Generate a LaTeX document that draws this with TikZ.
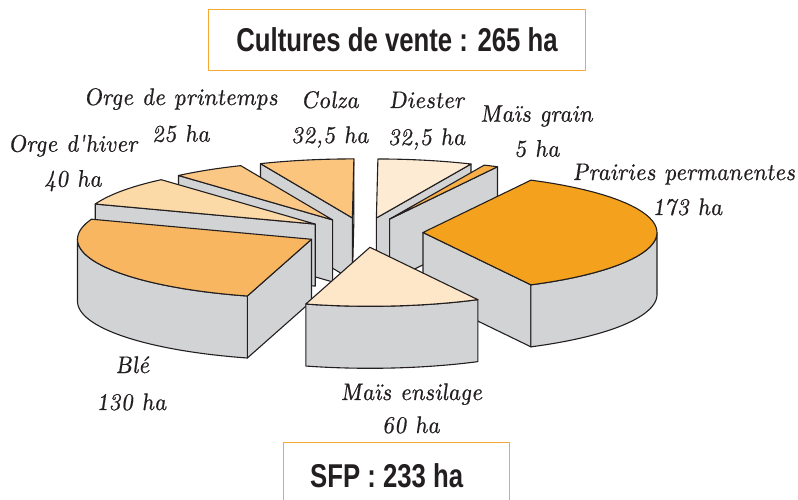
\documentclass[tikz,border=0pt]{standalone}
\usepackage{fontspec}
\newfontfamily\boxfont{Liberation Sans}[FakeStretch=0.78]
\newfontfamily\lblfont{lmroman10-italic}[Extension=.otf,FakeSlant=-0.1,FakeBold=0.7]
\definecolor{edge}{HTML}{231F20}
\definecolor{wallgray}{HTML}{D1D3D4}
\definecolor{boxorange}{HTML}{F5A833}
\definecolor{cBle}{HTML}{F9B660}
\definecolor{cOrgeH}{HTML}{FCDAA8}
\definecolor{cOrgeP}{HTML}{FBC784}
\definecolor{cColza}{HTML}{FBC57E}
\definecolor{cDiester}{HTML}{FEEBD3}
\definecolor{cMaisG}{HTML}{F8AF4A}
\definecolor{cPrairie}{HTML}{F4A11E}
\definecolor{cMaisE}{HTML}{FEE6C9}
\newcommand\sliceat[2]{%
  \pgfmathsetmacro\slA{#1}%
  \pgfmathsetmacro\slB{#2}%
  \pgfmathsetmacro\slM{(#1+#2)/2}%
  \pgfmathsetmacro\apX{364+59*cos(\slM)}%
  \pgfmathsetmacro\apY{232.5-14.87*sin(\slM)}%
  \coordinate (A) at (\apX,\apY);
  \coordinate (Ab) at (\apX,\apY+62);
  \coordinate (R1) at ({\apX+234*cos(\slA)},{\apY-59*sin(\slA)});
  \coordinate (R1b) at ({\apX+234*cos(\slA)},{\apY-59*sin(\slA)+62});
  \coordinate (R2) at ({\apX+234*cos(\slB)},{\apY-59*sin(\slB)});
  \coordinate (R2b) at ({\apX+234*cos(\slB)},{\apY-59*sin(\slB)+62});
}
\newcommand\wallA{\draw[wall] (A) -- (R1) -- (R1b) -- (Ab) -- cycle;}
\newcommand\wallB{\draw[wall] (A) -- (R2) -- (R2b) -- (Ab) -- cycle;}
\newcommand\outerwall[2]{\draw[wall] plot[domain=#1:#2,samples=40] ({\apX+234*cos(\x)},{\apY-59*sin(\x)}) -- plot[domain=#2:#1,samples=40] ({\apX+234*cos(\x)},{\apY-59*sin(\x)+62}) -- cycle;}
\newcommand\topf[1]{\draw[topface,fill=#1] (A) -- plot[domain=\slA:\slB,samples=40] ({\apX+234*cos(\x)},{\apY-59*sin(\x)}) -- cycle;}
\begin{document}
\begin{tikzpicture}[x=1pt,y=-1pt,line join=round,
  wall/.style={fill=wallgray,draw=edge,line width=1.1pt},
  topface/.style={draw=edge,line width=1.1pt},
  lbl/.style={font=\lblfont\fontsize{24}{28}\selectfont,anchor=base,inner sep=0pt,text=edge},
  boxtxt/.style={font=\boxfont\bfseries\fontsize{33}{36}\selectfont,text=edge},
  frame/.style={draw=boxorange,line width=1.3pt}]
\useasboundingbox (0,0) rectangle (798,500);
% Colza
\sliceat{89.63}{113.12}
\wallA \wallB \topf{cColza}
% Diester
\sliceat{66.14}{89.63}
\wallA \topf{cDiester}
% Mais grain
\sliceat{62.53}{66.14}
\wallA \topf{cMaisG}
% Orge de printemps
\sliceat{113.12}{131.19}
\wallB \topf{cOrgeP}
% Orge d'hiver
\sliceat{131.19}{160.11}
\wallB \topf{cOrgeH}
% Prairies permanentes
\sliceat{-62.53}{62.53}
\wallA \outerwall{-62.53}{0} \topf{cPrairie}
% Ble
\sliceat{160.11}{254.09}
\wallB \outerwall{180}{254.09} \topf{cBle}
% Mais ensilage
\sliceat{254.09}{297.47}
\outerwall{254.09}{297.47} \topf{cMaisE}
% labels
\node[lbl] (lOP) at (181,105) {Orge de printemps};
\node[lbl] (vOP) at (181,141.7) {25 ha};
\node[lbl] (lCo) at (330,108) {Colza};
\node[lbl] (vCo) at (330,143) {32,5 ha};
\node[lbl] (lOH) at (73,151.7) {Orge d'hiver};
\node[lbl] (vOH) at (73,186.7) {40 ha};
\node[lbl] (lBl) at (132.5,373) {Blé};
\node[lbl] (vBl) at (131.5,410) {130 ha};
\node[lbl] (lDi) at (426.7,108) {Diester};
\node[lbl] (vDi) at (426.7,145) {32,5 ha};
\node[lbl] (lMG) at (536.5,121.7) {Maïs grain};
\node[lbl] (vMG) at (537,156.7) {5 ha};
\node[lbl] (lPr) at (684,180) {Prairies permanentes};
\node[lbl] (vPr) at (687.5,215) {173 ha};
\node[lbl] (lME) at (411.5,400) {Maïs ensilage};
\node[lbl] (vME) at (411,433) {60 ha};
% boxes
\node[frame,boxtxt,minimum width=377pt,minimum height=61pt,inner sep=0pt] (cv) at (397,39.7) {Cultures de vente : 265 ha};
\draw[frame] (283.3,501) -- (283.3,442.7) -- (509.3,442.7) -- (509.3,501);
\node[boxtxt,anchor=base,inner sep=0pt] (sfp) at (386.7,487.7) {SFP : 233 ha};
\end{tikzpicture}
\end{document}
